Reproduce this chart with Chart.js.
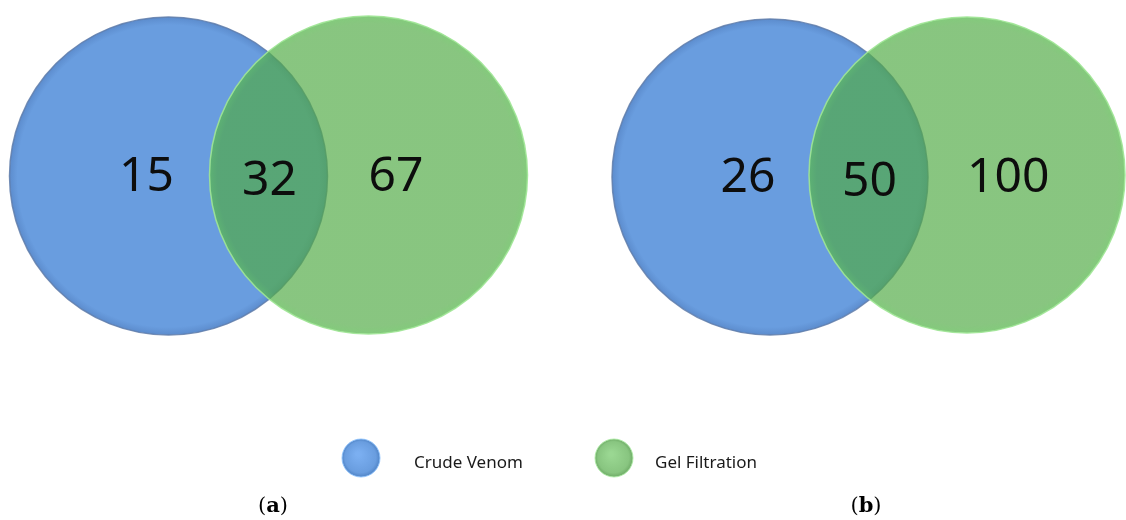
<!DOCTYPE html>
<html>
<head>
<meta charset="utf-8">
<title>Crude Venom vs Gel Filtration</title>
<script src="https://cdn.jsdelivr.net/npm/chart.js@4.4.1/dist/chart.umd.min.js"></script>
<style>
  html, body { margin: 0; padding: 0; background: #ffffff; }
  #wrap { width: 1126px; height: 520px; position: relative; }
  canvas { display: block; }
</style>
</head>
<body>
<div id="wrap"><canvas id="venn" width="1126" height="520"></canvas></div>
<script>
// Protein counts per panel
const categories = ['Crude Venom', 'Gel Filtration'];
const panelLabels = ['a', 'b'];
const onlyCrude = [15, 26];
const shared = [32, 50];
const onlyGel = [67, 100];

// Page layout (pixels)
const W = 1126, H = 520;
const circles = [
  { blueX: 168.5, greenX: 368.5, blueY: 176, greenY: 175, r: 159 },
  { blueX: 770, greenX: 967, blueY: 177, greenY: 175, r: 158 }
];
const panelCaptionX = [273, 866];

const BLUE = 'rgb(105,157,223)';
const GREEN = 'rgba(80,170,68,0.68)';

// radial fill with a slightly darker rim
function circleFill(ctx, base, rim) {
  const raw = ctx.raw;
  const chart = ctx.chart;
  if (!raw || !chart.scales || !chart.scales.x) return base;
  const cx = chart.scales.x.getPixelForValue(raw.x);
  const cy = chart.scales.y.getPixelForValue(raw.y);
  if (!Number.isFinite(cx) || !Number.isFinite(cy)) return base;
  const g = chart.ctx.createRadialGradient(cx, cy, 0, cx, cy, raw.r);
  g.addColorStop(0, base);
  g.addColorStop(0.95, base);
  g.addColorStop(1, rim);
  return g;
}

const blueData = circles.map(c => ({ x: c.blueX, y: c.blueY, r: c.r }));
const greenData = circles.map(c => ({ x: c.greenX, y: c.greenY, r: c.r }));

const vennLabels = {
  id: 'vennLabels',
  afterDatasetsDraw(chart) {
    const { ctx, scales } = chart;
    const px = v => scales.x.getPixelForValue(v);
    const py = v => scales.y.getPixelForValue(v);
    ctx.save();
    ctx.fillStyle = '#0d0d0d';
    ctx.font = '48px "Noto Sans", "Open Sans", sans-serif';
    ctx.textBaseline = 'middle';
    circles.forEach((c, i) => {
      ctx.textAlign = 'center';
      ctx.fillText(String(onlyCrude[i]), px(c.blueX - 22), py(c.blueY + 1));
      ctx.fillText(String(shared[i]), px((c.blueX + c.greenX) / 2 + 1), py(c.blueY + 5));
      ctx.textAlign = 'left';
      ctx.fillText(String(onlyGel[i]), px(c.greenX), py(c.blueY + 1));
    });

    // legend
    const legendItems = [
      { x: 361, textX: 414, base: [105,157,223], text: categories[0] },
      { x: 614, textX: 655, base: [136,197,128], text: categories[1] }
    ];
    const ly = 458, lr = 19;
    legendItems.forEach(item => {
      const [r, g, b] = item.base;
      const grad = ctx.createRadialGradient(item.x - 3, ly - 4, 2, item.x, ly, lr);
      grad.addColorStop(0, `rgb(${Math.min(255, r + 18)},${Math.min(255, g + 18)},${Math.min(255, b + 18)})`);
      grad.addColorStop(0.8, `rgb(${r},${g},${b})`);
      grad.addColorStop(1, `rgb(${r - 25},${g - 25},${b - 25})`);
      ctx.beginPath();
      ctx.arc(item.x, ly, lr, 0, Math.PI * 2);
      ctx.fillStyle = grad;
      ctx.fill();
      ctx.lineWidth = 1;
      ctx.strokeStyle = `rgba(${Math.min(255, r + 40)},${Math.min(255, g + 40)},${Math.min(255, b + 40)},0.9)`;
      ctx.stroke();
      ctx.fillStyle = '#1a1a1a';
      ctx.font = '17px "Noto Sans", "Open Sans", sans-serif';
      ctx.textAlign = 'left';
      ctx.textBaseline = 'middle';
      ctx.fillText(item.text, item.textX, ly + 5);
    });

    // panel captions: "(a)" with bold letter
    ctx.fillStyle = '#000';
    ctx.textBaseline = 'alphabetic';
    panelLabels.forEach((lab, i) => {
      const regular = '21px "DejaVu Serif", "Liberation Serif", serif';
      const bold = 'bold 21px "DejaVu Serif", "Liberation Serif", serif';
      ctx.font = regular;
      const wo = ctx.measureText('(').width;
      const wc = ctx.measureText(')').width;
      ctx.font = bold;
      const wl = ctx.measureText(lab).width;
      let x = panelCaptionX[i] - (wo + wl + wc) / 2;
      const y = 512;
      ctx.textAlign = 'left';
      ctx.font = regular; ctx.fillText('(', x, y); x += wo;
      ctx.font = bold; ctx.fillText(lab, x, y); x += wl;
      ctx.font = regular; ctx.fillText(')', x, y);
    });
    ctx.restore();
  }
};

new Chart(document.getElementById('venn'), {
  type: 'bubble',
  data: {
    datasets: [
      {
        label: categories[1],
        data: greenData,
        order: 0,
        backgroundColor: ctx => circleFill(ctx, GREEN, 'rgba(90,185,80,0.75)'),
        borderColor: 'rgba(160,230,150,0.9)',
        borderWidth: 1.5,
        hoverRadius: 0
      },
      {
        label: categories[0],
        data: blueData,
        order: 1,
        backgroundColor: ctx => circleFill(ctx, BLUE, 'rgb(92,140,205)'),
        borderColor: 'rgba(95,125,170,0.85)',
        borderWidth: 1.5,
        hoverRadius: 0
      }
    ]
  },
  options: {
    responsive: false,
    animation: false,
    events: [],
    layout: { padding: 0, autoPadding: false },
    plugins: { legend: { display: false }, tooltip: { enabled: false } },
    scales: {
      x: { type: 'linear', min: 0, max: W, display: false },
      y: { type: 'linear', min: 0, max: H, reverse: true, display: false }
    },
    clip: false
  },
  plugins: [vennLabels]
});
</script>
</body>
</html>
